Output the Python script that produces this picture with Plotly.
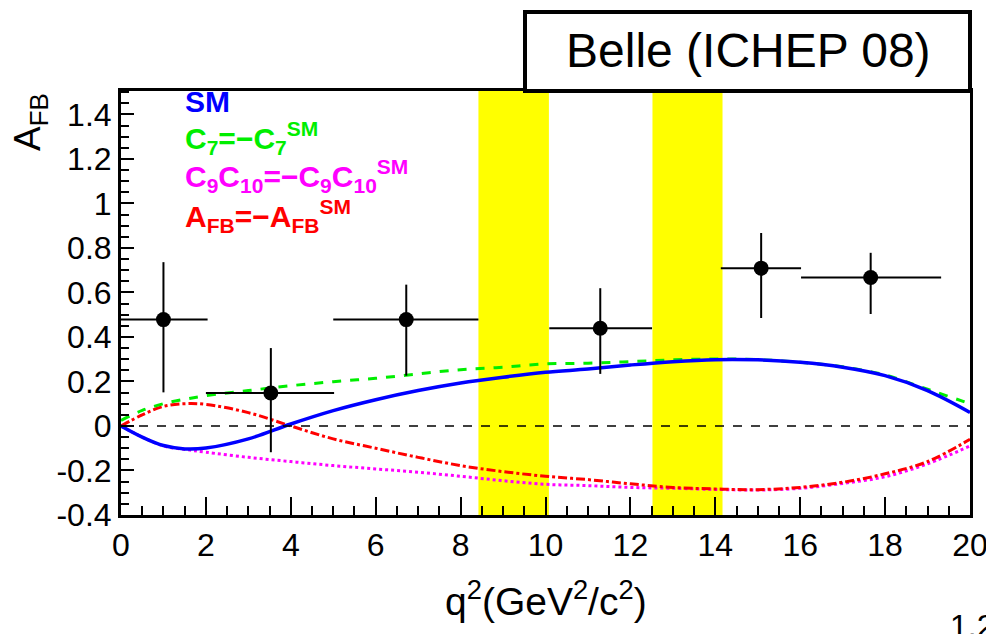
import plotly.graph_objects as go

# ---- data ----
q_theory = [0, 0.5, 1, 1.5, 2, 3, 4, 5, 6, 7, 8, 9, 10, 11, 12, 13, 14, 15, 16, 17, 18, 19, 20]
afb_sm = [0.0, -0.05, -0.088, -0.103, -0.099, -0.058, 0.009, 0.069, 0.118, 0.159, 0.193, 0.219,
          0.241, 0.256, 0.274, 0.289, 0.298, 0.297, 0.286, 0.264, 0.226, 0.159, 0.061]
afb_c7 = [0.025, 0.07, 0.10, 0.12, 0.136, 0.159, 0.181, 0.199, 0.214, 0.234, 0.253, 0.264,
          0.279, 0.282, 0.289, 0.297, 0.301, 0.298, 0.286, 0.266, 0.229, 0.165, 0.10]
afb_c9c10 = [0.0, -0.05, -0.09, -0.105, -0.118, -0.141, -0.160, -0.178, -0.193, -0.208, -0.226, -0.246,
             -0.262, -0.268, -0.276, -0.280, -0.285, -0.288, -0.280, -0.258, -0.228, -0.17, -0.09]
afb_flip = [0.0, 0.05, 0.088, 0.10, 0.097, 0.06, 0.0, -0.058, -0.10, -0.141, -0.178, -0.205,
            -0.226, -0.241, -0.26, -0.276, -0.283, -0.286, -0.276, -0.253, -0.215, -0.16, -0.06]

data_q = [1.0, 3.53, 6.72, 11.29, 15.08, 17.66]
bin_lo = [0.0, 2.0, 5.0, 10.09, 14.13, 16.02]
bin_hi = [2.04, 5.02, 8.42, 12.51, 16.02, 19.32]
data_afb = [0.478, 0.148, 0.478, 0.439, 0.709, 0.667]
afb_up = [0.736, 0.35, 0.635, 0.619, 0.867, 0.778]
afb_dn = [0.151, -0.118, 0.226, 0.234, 0.485, 0.503]

veto_lo = [8.42, 12.52]
veto_hi = [10.08, 14.17]

x_ticks = [0, 2, 4, 6, 8, 10, 12, 14, 16, 18, 20]
y_ticks = [-0.4, -0.2, 0, 0.2, 0.4, 0.6, 0.8, 1, 1.2, 1.4]
y_ticklabels = ["-0.4", "-0.2", "0", "0.2", "0.4", "0.6", "0.8", "1", "1.2", "1.4"]

FONT = "Liberation Sans, Arial, Helvetica, sans-serif"

fig = go.Figure()

# veto bands
for lo, hi in zip(veto_lo, veto_hi):
    fig.add_shape(type="rect", xref="x", yref="paper", x0=lo, x1=hi, y0=0, y1=1,
                  fillcolor="#ffff00", line=dict(width=0), layer="below")

# zero line
fig.add_shape(type="line", xref="paper", yref="y", x0=0, x1=1, y0=0, y1=0,
              line=dict(color="black", width=1.5, dash="dash"))

fig.add_trace(go.Scatter(x=q_theory, y=afb_c9c10, mode="lines", line=dict(color="#ff00ff", width=3, dash="dot", shape="spline")))
fig.add_trace(go.Scatter(x=q_theory, y=afb_flip, mode="lines", line=dict(color="#ff0000", width=3, dash="dashdot", shape="spline")))
fig.add_trace(go.Scatter(x=q_theory, y=afb_c7, mode="lines", line=dict(color="#00ee00", width=3, dash="dash", shape="spline")))
fig.add_trace(go.Scatter(x=q_theory, y=afb_sm, mode="lines", line=dict(color="#0000ff", width=3.5, shape="spline")))

fig.add_trace(go.Scatter(
    x=data_q, y=data_afb, mode="markers",
    marker=dict(color="black", size=15, symbol="circle"),
    error_x=dict(type="data", symmetric=False,
                 array=[h - x for h, x in zip(bin_hi, data_q)],
                 arrayminus=[x - l for l, x in zip(bin_lo, data_q)],
                 color="black", thickness=2, width=0),
    error_y=dict(type="data", symmetric=False,
                 array=[u - y for u, y in zip(afb_up, data_afb)],
                 arrayminus=[y - d for d, y in zip(afb_dn, data_afb)],
                 color="black", thickness=2, width=0),
))

# The page body has an 8px default margin, so the figure is made 8px smaller
# and its margins chosen to land the plot area where the reference has it.
fig.update_layout(
    width=986, height=626,
    margin=dict(l=113, r=24, t=83, b=119, autoexpand=False),
    paper_bgcolor="white", plot_bgcolor="white",
    showlegend=False,
    font=dict(family=FONT, color="black", size=32),
    xaxis=dict(range=[0, 20], tickvals=x_ticks, ticks="inside", ticklen=18, tickwidth=2,
               tickcolor="black", showline=True, linewidth=3, linecolor="black", mirror=True,
               showgrid=False, zeroline=False, automargin=False, ticklabeloverflow="allow",
               tickfont=dict(size=32, family=FONT),
               minor=dict(dtick=0.5, ticks="inside", ticklen=9, tickwidth=2, tickcolor="black", showgrid=False)),
    yaxis=dict(range=[-0.4, 1.505], tickvals=y_ticks, ticktext=y_ticklabels, ticks="inside", ticklen=13,
               tickwidth=2, tickcolor="black", showline=True, linewidth=3, linecolor="black", mirror=True,
               showgrid=False, zeroline=False, automargin=False, ticklabeloverflow="allow",
               tickfont=dict(size=32, family=FONT),
               minor=dict(dtick=0.05, tick0=0, ticks="inside", ticklen=8, tickwidth=2, tickcolor="black", showgrid=False)),
)

# page-pixel -> paper coordinate helpers (plot area spans x 121..970, y 91..515 on the page)
def px_x(px):
    return (px - 121) / 849

def px_y(py):
    return (515 - py) / 424

# title box
fig.add_shape(type="rect", xref="paper", yref="paper", x0=px_x(525), x1=px_x(970), y0=px_y(91), y1=px_y(12),
              line=dict(color="black", width=4), fillcolor="white")
fig.add_annotation(xref="paper", yref="paper", x=px_x(748), y=px_y(50), text="Belle (ICHEP 08)",
                   showarrow=False, font=dict(size=48, family=FONT, color="black"), xanchor="center", yanchor="middle")

# axis titles
fig.add_annotation(xref="paper", yref="paper", x=px_x(546), y=px_y(598),
                   text="q<sup>2</sup>(GeV<sup>2</sup>/c<sup>2</sup>)", showarrow=False,
                   font=dict(size=39, family=FONT), xanchor="center", yanchor="middle")
fig.add_annotation(xref="paper", yref="paper", x=px_x(30), y=px_y(122),
                   text="A<sub>FB</sub>", showarrow=False, textangle=-90,
                   font=dict(size=37, family=FONT), xanchor="center", yanchor="middle")

# legend-like labels
labels = [
    ("<b>SM</b>", "#0000ff", 102),
    ("<b>C<sub>7</sub>=−C<sub>7</sub><sup>SM</sup></b>", "#00ee00", 138),
    ("<b>C<sub>9</sub>C<sub>10</sub>=−C<sub>9</sub>C<sub>10</sub><sup>SM</sup></b>", "#ff00ff", 176),
    ("<b>A<sub>FB</sub>=−A<sub>FB</sub><sup>SM</sup></b>", "#ff0000", 216),
]
for txt, col, py in labels:
    fig.add_annotation(xref="paper", yref="paper", x=px_x(183), y=px_y(py), text=txt,
                       showarrow=False, font=dict(size=30, family=FONT, color=col),
                       xanchor="left", yanchor="middle")

# stray corner text
fig.add_annotation(xref="paper", yref="paper", x=px_x(972), y=px_y(606), text="1.2",
                   showarrow=False, font=dict(size=32, family=FONT), xanchor="center", yanchor="top")

fig.write_html("out.html")
